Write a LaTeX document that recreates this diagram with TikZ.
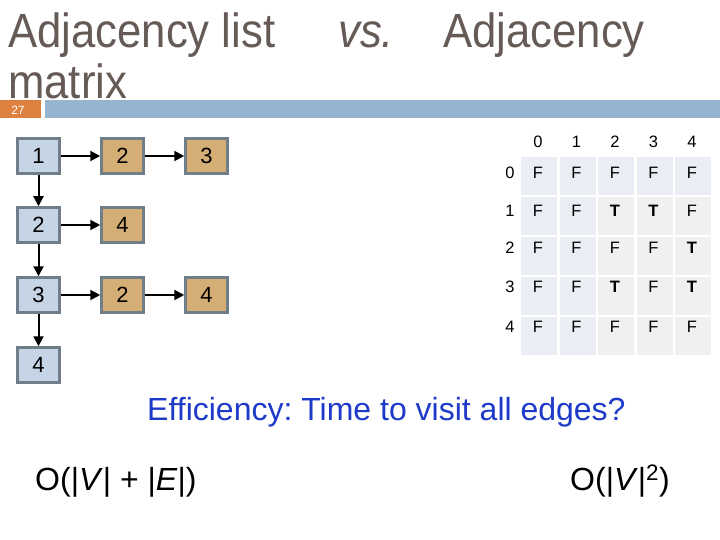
\documentclass[tikz,border=0pt]{standalone}
\usepackage{fontspec}
\setmainfont{Liberation Sans}
\newfontfamily\titlefam[FakeStretch=0.91]{Liberation Sans}
\usetikzlibrary{arrows.meta}
\frenchspacing
\definecolor{titlecol}{RGB}{102,90,86}
\definecolor{barblue}{RGB}{148,180,208}
\definecolor{barorange}{RGB}{222,128,64}
\definecolor{headblue}{RGB}{198,213,230}
\definecolor{itemtan}{RGB}{212,174,116}
\definecolor{bordergray}{RGB}{112,126,138}
\definecolor{cellblue}{RGB}{234,238,244}
\definecolor{cellgray}{RGB}{240,240,240}
\definecolor{effblue}{RGB}{30,58,200}
\tikzset{
  hd/.style={draw=bordergray, line width=2.5pt, fill=headblue, minimum width=42pt, minimum height=35pt, inner sep=0pt, font=\fontsize{22}{22}\selectfont},
  itm/.style={hd, fill=itemtan},
  arr/.style={-{Triangle[length=10pt,width=10pt]}, line width=2pt, black},
  ttl/.style={anchor=base west, inner sep=0pt, text=titlecol, font=\titlefam\fontsize{48}{48}\selectfont},
  cellbox/.style={inner sep=0pt, minimum width=36pt, minimum height=38pt, anchor=north west},
  mtxt/.style={inner sep=0pt, font=\fontsize{16.5}{16.5}\selectfont},
  big/.style={anchor=base west, inner sep=0pt, font=\fontsize{32}{32}\selectfont},
}
\begin{document}
\begin{tikzpicture}[x=1pt,y=-1pt]
\useasboundingbox[fill=white] (0,0) rectangle (720,540);
% title
\node[ttl] (t1) at (8,48) {Adjacency list};
\node[ttl] (t2) at (338,48) {\itshape vs.};
\node[ttl] (t3) at (443,48) {Adjacency};
\node[ttl] (t4) at (8,99) {matrix};
% bar
\fill[barorange] (0,100) rectangle (41,118);
\fill[barblue] (45,100) rectangle (720,118);
\node[inner sep=0pt, text=white, font=\fontsize{12}{12}\selectfont] (pg) at (18,110) {27};
% adjacency list
\node[hd] (h1) at (38.5,156) {1};
\node[hd] (h2) at (38.5,225) {2};
\node[hd] (h3) at (38.5,295) {3};
\node[hd] (h4) at (38.5,365) {4};
\node[itm] (a12) at (122.5,156) {2};
\node[itm] (a13) at (206.5,156) {3};
\node[itm] (a24) at (122.5,225) {4};
\node[itm] (a32) at (122.5,295) {2};
\node[itm] (a34) at (206.5,295) {4};
\draw[arr] (h1) -- (a12);
\draw[arr] (a12) -- (a13);
\draw[arr] (h2) -- (a24);
\draw[arr] (h3) -- (a32);
\draw[arr] (a32) -- (a34);
\draw[arr] (h1) -- (h2);
\draw[arr] (h2) -- (h3);
\draw[arr] (h3) -- (h4);
% matrix cells
\foreach \j in {0,...,4}{
  \foreach \i in {0,...,4}{
    \pgfmathtruncatemacro{\blu}{(\i<2 || \j==0) ? 1 : 0}
    \ifnum\blu=1
      \node[cellbox, fill=cellblue] (cell-\j-\i) at (521+38.5*\i,157+40*\j) {};
    \else
      \node[cellbox, fill=cellgray] (cell-\j-\i) at (521+38.5*\i,157+40*\j) {};
    \fi
  }
}
% headers
\foreach \i in {0,...,4}{
  \node[mtxt] (ch-\i) at (538+38.5*\i,142) {\i};
}
\foreach \j/\y in {0/173,1/210.5,2/248,3/287,4/327}{
  \node[mtxt] (rh-\j) at (510,\y) {\j};
}
% entries
\foreach \j/\y/\a/\b/\c/\d/\e in {
  0/173/F/F/F/F/F,
  1/210.5/F/F/\textbf{T}/\textbf{T}/F,
  2/248/F/F/F/F/\textbf{T},
  3/287/F/F/\textbf{T}/F/\textbf{T},
  4/327/F/F/F/F/F}{
  \node[mtxt] (v-\j-0) at (538,\y) {\a};
  \node[mtxt] (v-\j-1) at (576.5,\y) {\b};
  \node[mtxt] (v-\j-2) at (615,\y) {\c};
  \node[mtxt] (v-\j-3) at (653.5,\y) {\d};
  \node[mtxt] (v-\j-4) at (692,\y) {\e};
}
% bottom text
\node[big, text=effblue] (eff) at (147,420) {Efficiency: Time to visit all edges?};
\node[big] (ol) at (35,490) {O(|\textit{V}| + |\textit{E}|)};
\node[big] (om) at (570,490) {O(|\textit{V}|\textsuperscript{2})};
\end{tikzpicture}
\end{document}
